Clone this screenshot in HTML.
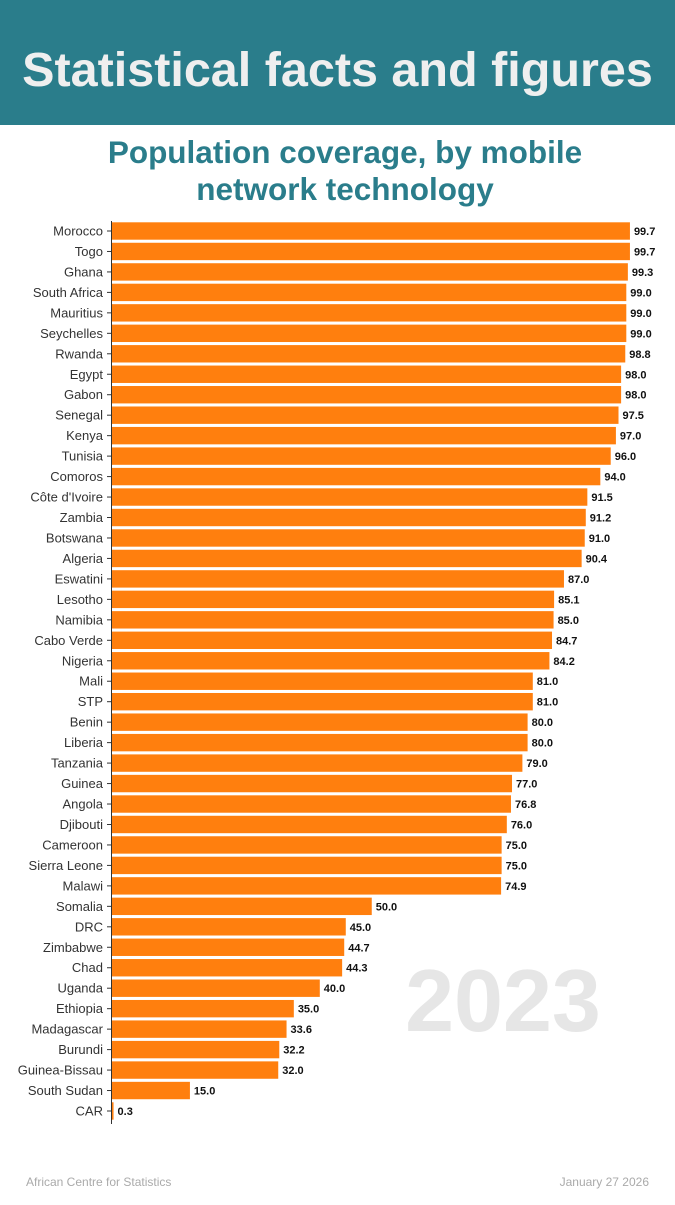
<!DOCTYPE html>
<html><head><meta charset="utf-8"><style>
html,body{margin:0;padding:0;background:#fff;}
body{width:675px;height:1200px;overflow:hidden;font-family:"Liberation Sans",sans-serif;}
</style></head><body>
<svg id="s" width="675" height="1200" xmlns="http://www.w3.org/2000/svg" font-family="Liberation Sans, sans-serif">
<rect x="0" y="0" width="675" height="125" fill="#2a7d8b"/>
<text x="337.5" y="86" text-anchor="middle" font-size="48.5" font-weight="bold" fill="#efefef">Statistical facts and figures</text>
<text x="345" y="163" text-anchor="middle" font-size="31.5" font-weight="bold" fill="#2a7d8b">Population coverage, by mobile</text>
<text x="345" y="200" text-anchor="middle" font-size="31.5" font-weight="bold" fill="#2a7d8b">network technology</text>
<text x="503" y="1031" text-anchor="middle" font-size="88" font-weight="bold" fill="#e6e6e6">2023</text>
<g id="g"></g>
<line x1="111.5" y1="221" x2="111.5" y2="1124" stroke="#333" stroke-width="1"/>
<text x="26" y="1186" font-size="12" fill="#aaa">African Centre for Statistics</text>
<text x="649" y="1186" text-anchor="end" font-size="12" fill="#aaa">January 27 2026</text>
</svg>
<script>
var d=[["Morocco",99.7],["Togo",99.7],["Ghana",99.3],["South Africa",99.0],["Mauritius",99.0],["Seychelles",99.0],["Rwanda",98.8],["Egypt",98.0],["Gabon",98.0],["Senegal",97.5],["Kenya",97.0],["Tunisia",96.0],["Comoros",94.0],["Côte d'Ivoire",91.5],["Zambia",91.2],["Botswana",91.0],["Algeria",90.4],["Eswatini",87.0],["Lesotho",85.1],["Namibia",85.0],["Cabo Verde",84.7],["Nigeria",84.2],["Mali",81.0],["STP",81.0],["Benin",80.0],["Liberia",80.0],["Tanzania",79.0],["Guinea",77.0],["Angola",76.8],["Djibouti",76.0],["Cameroon",75.0],["Sierra Leone",75.0],["Malawi",74.9],["Somalia",50.0],["DRC",45.0],["Zimbabwe",44.7],["Chad",44.3],["Uganda",40.0],["Ethiopia",35.0],["Madagascar",33.6],["Burundi",32.2],["Guinea-Bissau",32.0],["South Sudan",15.0],["CAR",0.3]];
var h="";
for(var i=0;i<d.length;i++){var cy=231+i*20.465;var w=d[i][1]*5.195;
h+='<rect x="112" y="'+(cy-8.7)+'" width="'+w+'" height="17.4" fill="#ff7f0e"/>';
h+='<line x1="107" y1="'+cy+'" x2="111" y2="'+cy+'" stroke="#333" stroke-width="1"/>';
h+='<text x="103" y="'+(cy+4.5)+'" text-anchor="end" font-size="13" fill="#333">'+d[i][0].replace("'","&#39;")+'</text>';
h+='<text x="'+(112+w+4)+'" y="'+(cy+4)+'" font-size="11" font-weight="bold" fill="#111">'+d[i][1].toFixed(1)+'</text>';}
document.getElementById("g").innerHTML=h;
</script>
</body></html>
